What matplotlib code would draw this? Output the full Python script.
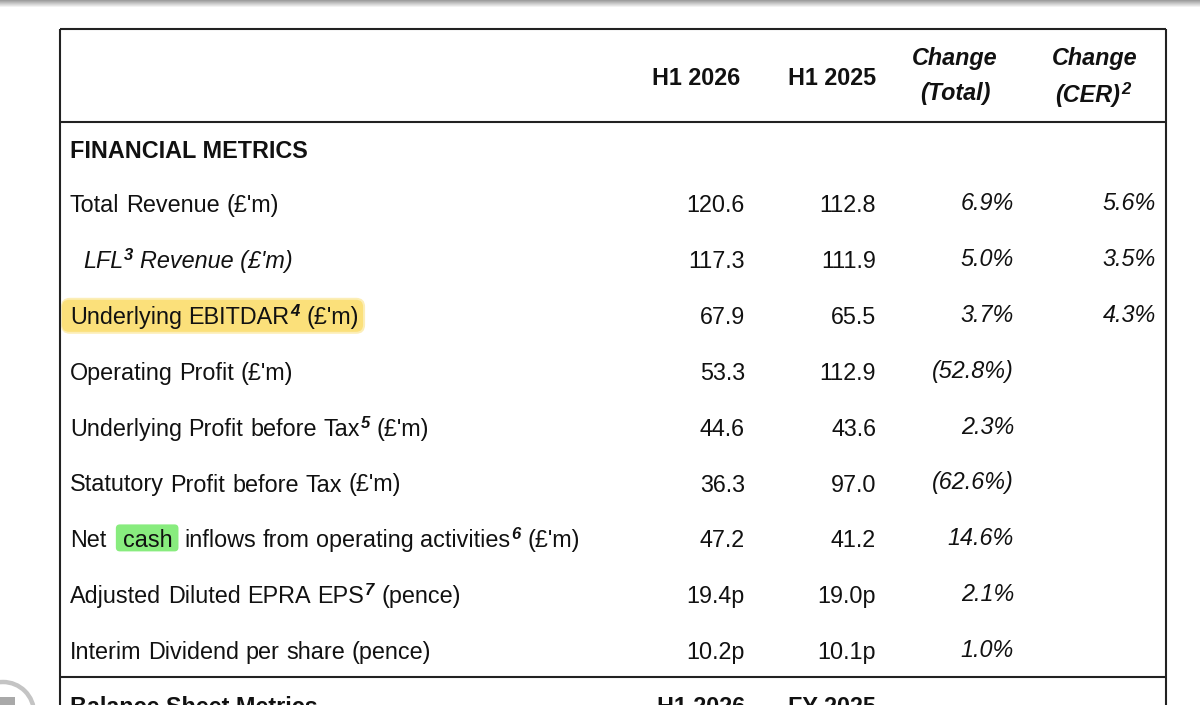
import matplotlib.pyplot as plt
import numpy as np
from matplotlib.patches import Circle, FancyBboxPatch, Rectangle

plt.rcParams["font.family"] = ["Liberation Sans", "DejaVu Sans"]

# table content
section_title = "FINANCIAL METRICS"
label_head = [
    "Total Revenue",
    "LFL",
    "Underlying EBITDAR",
    "Operating Profit",
    "Underlying Profit before Tax",
    "Statutory Profit before Tax",
    "Net cash inflows from operating activities",
    "Adjusted Diluted EPRA EPS",
    "Interim Dividend per share",
]
label_note = ["", "3", "4", "", "5", "", "6", "7", ""]
label_tail = ["(£'m)", "Revenue (£'m)", "(£'m)", "(£'m)", "(£'m)", "(£'m)", "(£'m)", "(pence)", "(pence)"]
label_italic = [False, True, False, False, False, False, False, False, False]
h1_2026 = [120.6, 117.3, 67.9, 53.3, 44.6, 36.3, 47.2, 19.4, 10.2]
h1_2025 = [112.8, 111.9, 65.5, 112.9, 43.6, 97.0, 41.2, 19.0, 10.1]
value_unit = ["", "", "", "", "", "", "", "p", "p"]
change_total = [6.9, 5.0, 3.7, -52.8, 2.3, -62.6, 14.6, 2.1, 1.0]
change_cer = [5.6, 3.5, 4.3, None, None, None, None, None, None]
highlight_row = 2
marked_word = "cash"
next_section = "Balance Sheet Metrics"
next_columns = ["H1 2026", "FY 2025"]

INK = "#111111"
LINE = "#222222"
YELLOW = "#fbe07a"
GREEN = "#88ec7e"
FS = 16.8
SUP = 12.0
SPACE = 6.6

fig = plt.figure(figsize=(12.0, 7.05), dpi=100)
ax = fig.add_axes([0, 0, 1, 1])
ax.set_xlim(0, 1200)
ax.set_ylim(705, 0)
ax.axis("off")
renderer = fig.canvas.get_renderer()


def put(x, y, text, size=FS, weight="normal", style="normal", ha="left"):
    return ax.text(x, y, text, fontsize=size, fontweight=weight, fontstyle=style,
                   ha=ha, va="baseline", color=INK, zorder=3)


def width(t):
    return t.get_window_extent(renderer).width


def fmt_pct(v):
    return f"({abs(v):.1f}%)" if v < 0 else f"{v:.1f}%"


def draw_label(x, y, head, note, tail, italic):
    style = "italic" if italic else "normal"
    cx = x
    for i, word in enumerate(head.split(" ")):
        if i:
            cx += SPACE
        if word == marked_word:
            cx += 10
        t = put(cx, y, word, style=style)
        w = width(t)
        if word == marked_word:
            ax.add_patch(FancyBboxPatch((cx - 7, y - 23), w + 13, 27,
                                        boxstyle="round,pad=0,rounding_size=4",
                                        facecolor=GREEN, edgecolor="none", zorder=1))
            cx += 5
        cx += w
    if note:
        t = put(cx + 1, y - 8, note, size=SUP, weight="bold", style="italic")
        cx += 1 + width(t)
    cx += SPACE
    t = put(cx, y, tail, style=style)
    return cx + width(t)


# top shadow of the screen
shade = np.linspace(0.62, 1.0, 8).reshape(-1, 1)
ax.imshow(shade, cmap="gray", vmin=0, vmax=1, extent=[0, 1200, 8, 0], aspect="auto", zorder=0)

# table frame
left, right = 60, 1166
for yy in [28.5, 122, 677]:
    ax.plot([left, right], [yy, yy], color=LINE, lw=1.5, solid_capstyle="butt", zorder=2)
for xx in [left, right]:
    ax.plot([xx, xx], [28.5, 705], color=LINE, lw=1.5, solid_capstyle="butt", zorder=4)

# header
put(696, 85, "H1 2026", weight="bold", ha="center")
put(832, 85, "H1 2025", weight="bold", ha="center")
put(955, 65, "Change", weight="bold", style="italic", ha="center")
put(955, 100, "(Total)", weight="bold", style="italic", ha="center")
put(1095, 65, "Change", weight="bold", style="italic", ha="center")
cer = put(1055, 102, "(CER)", weight="bold", style="italic")
put(1055 + width(cer) + 1, 94, "2", size=SUP, weight="bold", style="italic")

put(70, 158, section_title, weight="bold")

# rows
base0, step = 212, 55.9
for i in range(len(label_head)):
    y = base0 + i * step
    indent = 83 if label_italic[i] else 70
    end = draw_label(indent, y, label_head[i], label_note[i], label_tail[i], label_italic[i])
    if i == highlight_row:
        ax.add_patch(FancyBboxPatch((61, y - 26), end - 61 + 6, 36,
                                    boxstyle="round,pad=0,rounding_size=9",
                                    facecolor=YELLOW, edgecolor="none", alpha=0.55, zorder=1))
        ax.add_patch(FancyBboxPatch((62, y - 24), end - 62 + 4, 32,
                                    boxstyle="round,pad=0,rounding_size=7",
                                    facecolor=YELLOW, edgecolor="none", zorder=1))
    put(745, y, f"{h1_2026[i]:.1f}{value_unit[i]}", ha="right")
    put(876, y, f"{h1_2025[i]:.1f}{value_unit[i]}", ha="right")
    put(1014, y - 2, fmt_pct(change_total[i]), style="italic", ha="right")
    if change_cer[i] is not None:
        put(1156, y - 2, fmt_pct(change_cer[i]), style="italic", ha="right")

# next section, cut off by the screen edge
put(70, 714, next_section, weight="bold")
put(745, 714, next_columns[0], weight="bold", ha="right")
put(876, 714, next_columns[1], weight="bold", ha="right")

# floating button in the corner
ax.add_patch(Circle((3, 713), 31, facecolor="white", edgecolor="#c4c4c4", lw=3.2, zorder=5))
ax.add_patch(Rectangle((0, 697), 15, 10, facecolor="#a9a9a9", edgecolor="none", zorder=6))

fig.savefig("out.png", dpi=100)
